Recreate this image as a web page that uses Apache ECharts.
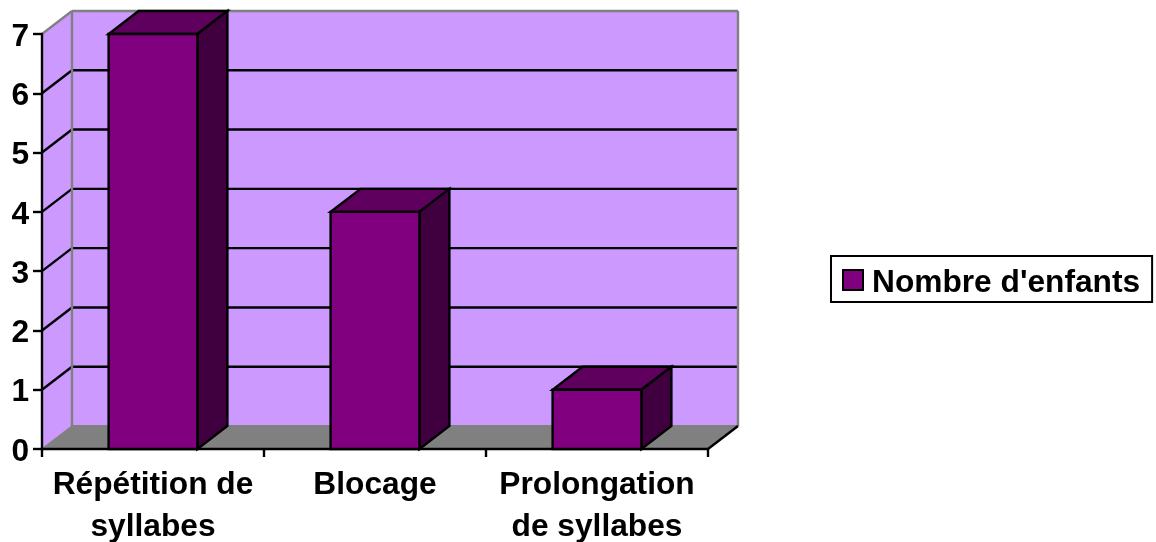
<!DOCTYPE html>
<html><head><meta charset="utf-8">
<style>html,body{margin:0;padding:0;background:#fff}#c{width:1156px;height:542px}</style>
<script src="https://cdn.jsdelivr.net/npm/echarts@6/dist/echarts.min.js"></script>
</head><body><div id="c"></div>
<script>
const categories = ["Répétition de\nsyllabes", "Blocage", "Prolongation\nde syllabes"];
const enfants = [7, 4, 1];
const gridValues = [1, 2, 3, 4, 5, 6];
const seriesName = "Nombre d'enfants";

const DX = 30, DY = -23, FONT = '"Liberation Sans", Arial, sans-serif', FS = 31.7, LW = 2.4;
const chart = echarts.init(document.getElementById('c'), null, {renderer: 'canvas'});

function poly(points, fill, stroke, w) {
  return {type: 'polygon', shape: {points}, style: {fill, stroke: stroke || null, lineWidth: w || 0, lineJoin: 'miter'}};
}
function line(x1, y1, x2, y2, stroke, w) {
  return {type: 'line', shape: {x1, y1, x2, y2}, style: {stroke, lineWidth: w || LW}};
}
function renderWalls(params, api) {
  const c = params.coordSys, l = c.x, r = c.x + c.width, t = c.y, b = c.y + c.height;
  const kids = [
    poly([[l + DX, t + DY], [r + DX, t + DY], [r + DX, b + DY], [l + DX, b + DY]], '#CC99FF'),
    poly([[l, t], [l + DX, t + DY], [l + DX, b + DY], [l, b]], '#CC99FF'),
    poly([[l, b], [l + DX, b + DY], [r + DX, b + DY], [r, b]], '#808080')
  ];
  gridValues.forEach(v => {
    const y = api.coord([0, v])[1];
    kids.push(line(l, y, l + DX, y + DY, '#000'));
    kids.push(line(l + DX, y + DY, r + DX, y + DY, '#000'));
  });
  kids.push(line(l, t, l + DX, t + DY, '#808080'));
  kids.push(line(l + DX, t + DY, r + DX, t + DY, '#808080'));
  kids.push(line(l + DX, t + DY, l + DX, b + DY, '#808080'));
  kids.push(line(r + DX, t + DY, r + DX, b + DY, '#808080'));
  kids.push(line(l + DX, b + DY, r + DX, b + DY, '#808080', 2));
  kids.push(line(l, b, l + DX, b + DY, '#808080', 1.5));
  kids.push(line(r, b, r + DX, b + DY, '#000'));
  return {type: 'group', children: kids};
}
function renderBar(params, api) {
  const p = api.coord([api.value(0), api.value(1)]);
  const b = api.coord([api.value(0), 0]);
  const w = api.size([1, 0])[0] * 0.4;
  const x0 = p[0] - w / 2, x1 = p[0] + w / 2, yt = p[1], yb = b[1];
  return {type: 'group', children: [
    poly([[x0, yt], [x1, yt], [x1 + DX, yt + DY], [x0 + DX, yt + DY]], '#5F005F', '#000', LW),
    poly([[x1, yt], [x1 + DX, yt + DY], [x1 + DX, yb + DY], [x1, yb]], '#400040', '#000', LW),
    poly([[x0, yt], [x1, yt], [x1, yb], [x0, yb]], '#800080', '#000', LW)
  ]};
}
chart.setOption({
  animation: false,
  backgroundColor: '#fff',
  grid: {left: 42, right: 448, top: 34, bottom: 93, containLabel: false, outerBoundsMode: 'none'},
  legend: {
    show: true, left: 831, top: 256, orient: 'horizontal',
    data: [seriesName], icon: 'rect', itemWidth: 20, itemHeight: 20, itemGap: 0,
    padding: [11, 12, 3, 11], borderColor: '#000', borderWidth: 2, backgroundColor: '#fff',
    selectedMode: false,
    formatter: '{t|{name}}',
    textStyle: {rich: {t: {fontFamily: FONT, fontSize: FS, fontWeight: 'bold', color: '#000', padding: [6, 0, 0, 4]}}},
    itemStyle: {color: '#800080', borderColor: '#000', borderWidth: 2}
  },
  xAxis: {
    type: 'category', data: categories, z: 5,
    axisLine: {show: true, onZero: false, lineStyle: {color: '#000', width: LW}},
    axisTick: {show: true, length: 8, alignWithLabel: false, lineStyle: {color: '#000', width: LW}},
    axisLabel: {fontFamily: FONT, fontSize: FS, fontWeight: 'bold', color: '#000', lineHeight: 42, margin: 15, interval: 0}
  },
  yAxis: {
    type: 'value', min: 0, max: 7, interval: 1, z: 5,
    splitLine: {show: false},
    axisLine: {show: true, lineStyle: {color: '#000', width: LW}},
    axisTick: {show: true, length: 9, lineStyle: {color: '#000', width: LW}},
    axisLabel: {margin: 13, formatter: '{v|{value}}',
      rich: {v: {fontFamily: FONT, fontSize: FS, fontWeight: 'bold', color: '#000', padding: [6, 0, 0, 0]}}}
  },
  series: [
    {type: 'custom', z: 1, renderItem: renderWalls, data: [[0, 0]], silent: true, clip: false, legendHoverLink: false},
    {type: 'custom', z: 6, name: seriesName, renderItem: renderBar, clip: false, silent: true,
     encode: {x: 0, y: 1}, data: enfants.map((v, i) => [i, v]),
     itemStyle: {color: '#800080', borderColor: '#000', borderWidth: 2}}
  ]
});
</script></body></html>
